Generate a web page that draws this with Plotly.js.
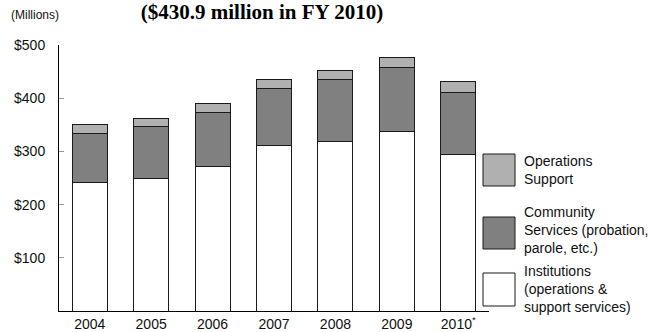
<!DOCTYPE html>
<html>
<head>
<meta charset="utf-8">
<script src="https://cdn.plot.ly/plotly-3.0.1.min.js"></script>
<style>html,body{margin:0;padding:0;background:#fff}#chart{width:651px;height:332px}</style>
</head>
<body>
<div id="chart"></div>
<script>
// ---- data (millions of dollars) ----
const years = ["2004", "2005", "2006", "2007", "2008", "2009", "2010*"];
const xTickText = ["2004", "2005", "2006", "2007", "2008", "2009", "2010<sup>*</sup>"];
const institutions = [242, 249, 272, 311, 318, 338, 295];
const community = [92, 97, 102, 107, 118, 119, 115];
const operations = [16, 15, 16, 17, 17, 19, 20.9];
const yTickVals = [100, 200, 300, 400, 500];
const yTickText = ["$100", "$200", "$300", "$400", "$500"];
const legendItems = [
  {label: "Operations<br>Support", color: "#b0b0b0"},
  {label: "Community<br>Services (probation,<br>parole, etc.)", color: "#808080"},
  {label: "Institutions<br>(operations &<br>support services)", color: "#ffffff"}
];

// ---- layout helpers ----
const W = 651, H = 332, ML = 59, MR = 162, MT = 45, MB = 21;
const PW = W - ML - MR, PH = H - MT - MB;
const px = x => (x - ML) / PW;
const py = y => (H - MB - y) / PH;
const SANS = "Liberation Sans, Arial, sans-serif";

const line = {color: "#1a1a1a", width: 1};
const traces = [
  {type: "bar", x: years, y: institutions, name: "Institutions", marker: {color: legendItems[2].color, line: line}},
  {type: "bar", x: years, y: community, name: "Community Services", marker: {color: legendItems[1].color, line: line}},
  {type: "bar", x: years, y: operations, name: "Operations Support", marker: {color: legendItems[0].color, line: line}}
];

const boxes = [[154, 186], [217, 249], [273, 306]];
const textY = [170, 230, 289];
const shapes = [], annotations = [];
legendItems.forEach((it, i) => {
  shapes.push({type: "rect", xref: "paper", yref: "paper", x0: px(483), x1: px(515),
    y0: py(boxes[i][1]), y1: py(boxes[i][0]), fillcolor: it.color, line: {color: "#1a1a1a", width: 1}});
  annotations.push({xref: "paper", yref: "paper", x: px(522), y: py(textY[i]), xanchor: "left", yanchor: "middle",
    align: "left", showarrow: false, text: it.label, font: {family: SANS, size: 14, color: "#111"}});
});
annotations.push({xref: "paper", yref: "paper", x: px(9), y: py(15), xanchor: "left", yanchor: "middle",
  showarrow: false, text: "(Millions)", font: {family: SANS, size: 12, color: "#111"}});

const layout = {
  width: W, height: H,
  margin: {l: ML, r: MR, t: MT, b: MB, pad: 0},
  paper_bgcolor: "#fff", plot_bgcolor: "#fff",
  barmode: "stack", bargap: 0.43, showlegend: false,
  title: {text: "<b>($430.9 million in FY 2010)</b>", xref: "container", yref: "container",
    x: 262 / W, xanchor: "center", y: 1 - 12 / H, yanchor: "middle",
    font: {family: "Liberation Serif, Times New Roman, serif", size: 21, color: "#000"}},
  xaxis: {type: "category", showline: true, linecolor: "#000", linewidth: 1, ticks: "", showgrid: false,
    tickvals: years, ticktext: xTickText,
    tickfont: {family: SANS, size: 14, color: "#111"}, fixedrange: true},
  yaxis: {range: [0, 500], showline: true, linecolor: "#000", linewidth: 1, showgrid: false, zeroline: false,
    tickvals: yTickVals, ticktext: yTickText, ticks: "inside", ticklen: 5, tickcolor: "#999",
    tickfont: {family: SANS, size: 14, color: "#111"}, ticklabelstandoff: 10},
  shapes: shapes, annotations: annotations
};

Plotly.newPlot("chart", traces, layout, {displayModeBar: false, staticPlot: true});
</script>
</body>
</html>
